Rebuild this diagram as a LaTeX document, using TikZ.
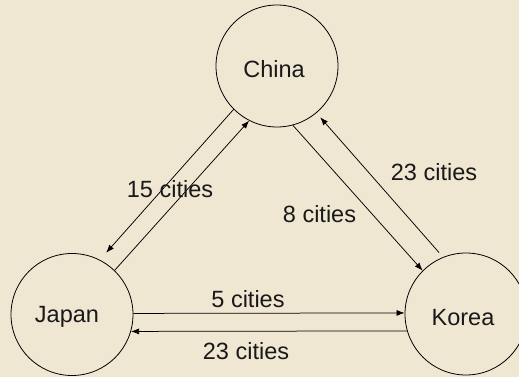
\documentclass[tikz,border=0pt]{standalone}
\usepackage{fontspec}
\setmainfont{Liberation Sans}
\usetikzlibrary{arrows.meta}
\definecolor{bgbeige}{RGB}{240,231,211}
\begin{document}
\begin{tikzpicture}[x=1pt,y=-1pt,
  country/.style={circle,draw=black,line width=0.8pt,minimum size=122pt,inner sep=0pt},
  txt/.style={anchor=base,inner sep=0pt,font=\fontsize{23.5}{28}\selectfont,text=black!90},
  link/.style={draw=black,line width=0.75pt,-{Latex[length=8pt,width=6pt]}}]
\fill[bgbeige] (0,0) rectangle (519,377);
\useasboundingbox (0,0) rectangle (519,377);
% countries
\node[country] (china) at (277,66) {};
\node[country] (japan) at (72,314.5) {};
\node[country] (korea) at (466,314) {};
\node[txt] (chinat) at (274,78) {China};
\node[txt] (japant) at (67,322) {Japan};
\node[txt] (koreat) at (463,325) {Korea};
% connectors
\draw[link] (japan.46) -- (china.243);
\draw[link,shorten >=9.5pt] (china.225.6) -- (japan.63);
\draw[link] (china.285) -- (korea.135);
\draw[link,shorten <=6pt,shorten >=5.7pt] (korea.112.2) -- (china.310);
\draw[link] (japan.1.4) -- (korea.179);
\draw[link] (korea.196.2) -- (japan.344.3);
% labels
\node[txt] (l15) at (170,197) {15 cities};
\node[txt] (l8) at (319.5,222) {8 cities};
\node[txt] (l23a) at (434,180) {23 cities};
\node[txt] (l5) at (248,307) {5 cities};
\node[txt] (l23b) at (246,359) {23 cities};
\end{tikzpicture}
\end{document}
